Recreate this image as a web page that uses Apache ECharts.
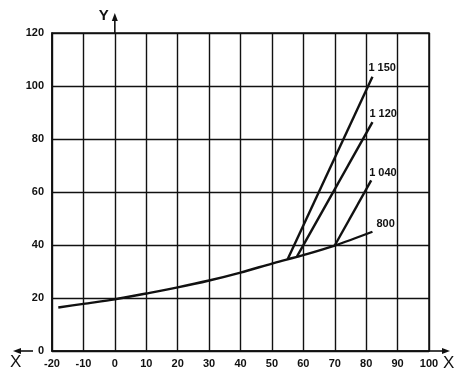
<!DOCTYPE html>
<html>
<head>
<meta charset="utf-8">
<script src="https://cdn.jsdelivr.net/npm/echarts@6/dist/echarts.min.js"></script>
<style>
  html, body { margin: 0; padding: 0; background: #fff; }
  #chart { width: 476px; height: 378px; }
</style>
</head>
<body>
<div id="chart"></div>
<script>
// axis ranges
const xMin = -20, xMax = 100, xStep = 10
const yMin = 0, yMax = 120, yStep = 20

// curves, [x, y]
const curve800 = [[-18, 16.4], [-10, 17.8], [0, 19.5], [10, 21.7], [20, 24], [30, 26.6],
  [40, 29.6], [50, 33.0], [55, 34.6], [60, 36.2], [70, 39.8], [82, 45]]
const curve1040 = [[70, 39.8], [81.6, 64.4]]
const curve1120 = [[58, 35.7], [82, 86.4]]
const curve1150 = [[55, 34.6], [82, 103.5]]

const curveNames = ['800', '1 040', '1 120', '1 150']
const curveData = [curve800, curve1040, curve1120, curve1150]
const labelOffsets = [[-1, -8], [-7, -7], [-8, -8], [-9, -9]]

const ink = '#111'
const font = 'Liberation Sans, Arial, sans-serif'

const chart = echarts.init(document.getElementById('chart'))

const series = curveData.map((d, i) => ({
  name: curveNames[i],
  type: 'line',
  data: d,
  smooth: i === 0 ? 0.3 : false,
  showSymbol: false,
  symbol: 'none',
  clip: false,
  lineStyle: { color: ink, width: 2.4 },
  endLabel: {
    show: true,
    formatter: curveNames[i],
    color: ink,
    fontFamily: font,
    fontSize: 11,
    fontWeight: 'bold',
    distance: 5,
    offset: labelOffsets[i],
  },
  z: 3,
}))

chart.setOption({
  animation: false,
  grid: { left: 52, right: 47, top: 33, bottom: 27, show: true, borderColor: ink, borderWidth: 1.5 },
  xAxis: {
    type: 'value',
    min: xMin, max: xMax, interval: xStep,
    axisLine: { show: true, onZero: false, lineStyle: { color: ink, width: 1.6 } },
    axisTick: { show: false },
    splitLine: { show: true, lineStyle: { color: ink, width: 1.4 } },
    axisLabel: { color: ink, fontFamily: font, fontSize: 11, fontWeight: 'bold', margin: 7 },
  },
  yAxis: {
    type: 'value',
    min: yMin, max: yMax, interval: yStep,
    axisLine: { show: true, onZero: false, lineStyle: { color: ink, width: 1.6 } },
    axisTick: { show: false },
    splitLine: { show: true, lineStyle: { color: ink, width: 1.4 } },
    axisLabel: { color: ink, fontFamily: font, fontSize: 11, fontWeight: 'bold', margin: 8 },
  },
  series,
})

// axis arrows: place them from the axes' own scale
const px = (x, y) => chart.convertToPixel({ gridIndex: 0 }, [x, y])
const origin = px(0, 0)
const yTop = px(0, yMax)
const xEnd = px(xMax, 0)
const xLeft = px(xMin, 0)

function arrow(x1, y1, x2, y2) {
  const ang = Math.atan2(y2 - y1, x2 - x1)
  const len = 8, half = 3
  const bx = x2 - len * Math.cos(ang), by = y2 - len * Math.sin(ang)
  const nx = -Math.sin(ang) * half, ny = Math.cos(ang) * half
  return [
    { type: 'line', shape: { x1, y1, x2: bx, y2: by }, style: { stroke: ink, lineWidth: 1.6 } },
    { type: 'polygon', shape: { points: [[x2, y2], [bx + nx, by + ny], [bx - nx, by - ny]] }, style: { fill: ink } },
  ]
}

chart.setOption({
  graphic: [
    ...arrow(yTop[0], yTop[1], yTop[0], yTop[1] - 20),
    ...arrow(xEnd[0], xEnd[1], xEnd[0] + 21, xEnd[1]),
    ...arrow(xLeft[0] - 19, xLeft[1], xLeft[0] - 39, xLeft[1]),
    { type: 'text', x: origin[0] - 16, y: yTop[1] - 25, style: { text: 'Y', fill: ink, font: 'bold 15px ' + font } },
    { type: 'text', x: xEnd[0] + 14, y: xEnd[1] + 4, style: { text: 'X', fill: ink, font: '17px ' + font } },
    { type: 'text', x: xLeft[0] - 42, y: xLeft[1] + 3, style: { text: 'X', fill: ink, font: '17px ' + font } },
  ],
})
</script>
</body>
</html>
